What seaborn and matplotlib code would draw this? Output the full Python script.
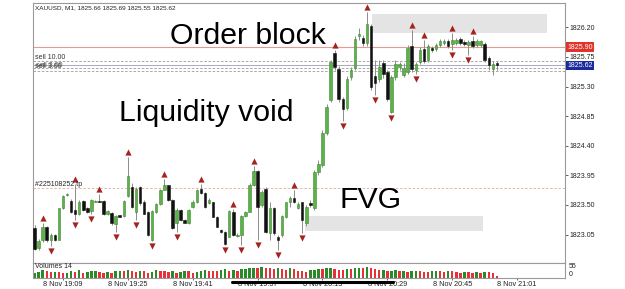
import numpy as np
import pandas as pd
import matplotlib
matplotlib.use("Agg")
import matplotlib.pyplot as plt
import matplotlib.transforms as mtransforms
from matplotlib.patches import Rectangle
from matplotlib.lines import Line2D
import seaborn as sns

# ---------------- data ----------------
opens = [
    1823.15, 1822.84, 1822.96, 1823.16, 1822.97, 1823.04, 1822.97, 1823.45, 1823.65, 1823.56,
    1823.42, 1823.36, 1823.56, 1823.46, 1823.41, 1823.55, 1823.56, 1823.56, 1823.36, 1823.38,
    1823.21, 1823.34, 1823.33, 1823.63, 1823.78, 1823.40, 1823.77, 1823.55, 1823.40, 1822.97,
    1823.40, 1823.51, 1823.73, 1823.80, 1823.58, 1823.22, 1823.42, 1823.27, 1823.22, 1823.47,
    1823.54, 1823.75, 1823.68, 1823.53, 1823.54, 1823.31, 1823.12, 1823.09, 1823.02, 1823.40,
    1823.03, 1823.04, 1823.33, 1823.40, 1823.80, 1824.02, 1823.50, 1823.75, 1823.07, 1823.45,
    1823.02, 1823.04, 1823.31, 1823.55, 1823.60, 1823.46, 1823.54, 1823.23, 1823.53, 1823.45,
    1824.00, 1824.11, 1824.59, 1825.10, 1825.81, 1825.57, 1825.11, 1824.97, 1825.45, 1825.58,
    1826.07, 1826.04, 1825.96, 1826.22, 1825.46, 1825.41, 1825.66, 1825.52, 1824.91, 1825.45,
    1825.60, 1825.48, 1825.52, 1825.92, 1825.55, 1825.67, 1825.87, 1825.70, 1825.89, 1825.87,
    1825.93, 1825.96, 1825.99, 1825.95, 1825.96, 1826.02, 1825.98, 1825.93, 1825.99, 1825.93,
    1825.93, 1825.95, 1825.73, 1825.57, 1825.66]
highs = [
    1823.20, 1822.98, 1823.23, 1823.18, 1823.07, 1823.06, 1823.46, 1823.65, 1823.68, 1823.59,
    1823.82, 1823.57, 1823.58, 1823.47, 1823.59, 1823.58, 1823.67, 1823.58, 1823.43, 1823.40,
    1823.35, 1823.35, 1823.58, 1824.23, 1823.83, 1823.78, 1823.79, 1823.57, 1823.41, 1823.42,
    1823.53, 1823.75, 1823.90, 1823.81, 1823.59, 1823.45, 1823.44, 1823.29, 1823.44, 1823.57,
    1823.74, 1823.82, 1823.69, 1823.60, 1823.55, 1823.33, 1823.13, 1823.11, 1823.42, 1823.44,
    1823.07, 1823.35, 1823.41, 1823.83, 1824.09, 1824.03, 1823.73, 1823.78, 1823.55, 1823.47,
    1823.04, 1823.35, 1823.55, 1823.63, 1823.72, 1823.55, 1823.55, 1823.50, 1823.58, 1824.03,
    1824.18, 1824.64, 1825.03, 1825.70, 1825.86, 1825.61, 1825.14, 1825.46, 1825.60, 1826.07,
    1826.19, 1826.08, 1826.43, 1826.25, 1825.70, 1825.70, 1825.70, 1825.55, 1825.48, 1825.70,
    1825.67, 1825.66, 1825.93, 1826.16, 1825.67, 1825.90, 1826.01, 1825.95, 1825.92, 1825.96,
    1826.02, 1826.02, 1826.02, 1826.11, 1826.04, 1826.05, 1826.01, 1826.01, 1826.07, 1826.02,
    1826.01, 1825.98, 1825.76, 1825.69, 1825.69]
lows = [
    1822.81, 1822.82, 1822.94, 1822.94, 1822.87, 1822.95, 1822.96, 1823.44, 1823.63, 1823.38,
    1823.27, 1823.35, 1823.41, 1823.38, 1823.36, 1823.55, 1823.55, 1823.35, 1823.34, 1823.20,
    1823.09, 1823.31, 1823.32, 1823.62, 1823.45, 1823.27, 1823.50, 1823.36, 1823.03, 1822.95,
    1823.38, 1823.50, 1823.72, 1823.56, 1823.13, 1823.09, 1823.26, 1823.22, 1823.21, 1823.46,
    1823.53, 1823.66, 1823.45, 1823.51, 1823.31, 1823.16, 1823.08, 1822.89, 1823.01, 1823.03,
    1823.02, 1822.89, 1823.32, 1823.39, 1823.79, 1822.96, 1823.47, 1823.07, 1822.97, 1823.04,
    1822.82, 1823.02, 1823.30, 1823.47, 1823.53, 1823.44, 1823.08, 1823.18, 1823.47, 1823.42,
    1823.96, 1824.08, 1824.56, 1825.07, 1825.55, 1825.07, 1824.78, 1824.94, 1825.40, 1825.55,
    1826.01, 1825.92, 1825.92, 1825.25, 1825.17, 1825.37, 1825.43, 1825.08, 1824.90, 1825.40,
    1825.55, 1825.45, 1825.49, 1825.52, 1825.49, 1825.64, 1825.66, 1825.67, 1825.83, 1825.84,
    1825.90, 1825.93, 1825.89, 1825.86, 1825.93, 1825.93, 1825.92, 1825.78, 1825.89, 1825.90,
    1825.90, 1825.67, 1825.55, 1825.48, 1825.55]
closes = [
    1822.83, 1822.95, 1823.16, 1822.97, 1823.05, 1822.97, 1823.45, 1823.63, 1823.65, 1823.40,
    1823.37, 1823.54, 1823.42, 1823.40, 1823.58, 1823.565, 1823.55, 1823.37, 1823.41, 1823.22,
    1823.33, 1823.32, 1823.56, 1823.94, 1823.47, 1823.75, 1823.53, 1823.37, 1823.05, 1823.41,
    1823.51, 1823.73, 1823.80, 1823.58, 1823.15, 1823.43, 1823.27, 1823.23, 1823.42, 1823.55,
    1823.73, 1823.68, 1823.47, 1823.58, 1823.32, 1823.17, 1823.09, 1822.91, 1823.41, 1823.04,
    1823.05, 1823.33, 1823.40, 1823.81, 1824.01, 1823.47, 1823.69, 1823.09, 1823.45, 1823.07,
    1822.97, 1823.33, 1823.54, 1823.60, 1823.55, 1823.51, 1823.27, 1823.47, 1823.50, 1824.00,
    1824.12, 1824.59, 1824.99, 1825.67, 1825.60, 1825.11, 1824.96, 1825.41, 1825.55, 1826.02,
    1826.10, 1825.96, 1826.25, 1825.29, 1825.35, 1825.60, 1825.49, 1825.11, 1825.45, 1825.64,
    1825.64, 1825.58, 1825.89, 1825.57, 1825.64, 1825.86, 1825.69, 1825.92, 1825.86, 1825.93,
    1825.99, 1825.99, 1825.92, 1826.01, 1826.01, 1825.96, 1825.95, 1825.98, 1825.92, 1825.99,
    1825.99, 1825.70, 1825.63, 1825.64, 1825.62]
volumes = [
    22, 28, 34, 30, 26, 27, 25, 20, 24, 31,
    28, 36, 22, 26, 30, 33, 26, 22, 28, 24,
    30, 33, 31, 36, 29, 28, 33, 31, 24, 27,
    35, 30, 29, 26, 31, 24, 27, 33, 30, 24,
    28, 31, 37, 33, 32, 30, 34, 38, 30, 36,
    32, 38, 40, 44, 46, 42, 50, 45, 42, 38,
    44, 40, 36, 42, 38, 33, 30, 28, 34, 36,
    40, 38, 42, 44, 40, 37, 34, 39, 38, 42,
    45, 43, 48, 44, 38, 34, 36, 30, 33, 35,
    29, 32, 28, 30, 33, 31, 28, 27, 30, 32,
    30, 28, 31, 29, 27, 24, 27, 25, 22, 26,
    22, 27, 25, 23, 10]
fractal_up = [2, 10, 16, 23, 32, 41, 49, 54, 64, 74, 82, 93, 96, 103, 108]
fractal_down = [4, 10, 14, 20, 25, 29, 35, 47, 51, 55, 60, 66, 76, 84, 88, 94, 103, 107]

tick_idx = [7, 23, 39, 55, 71, 87, 103, 119]
tick_labels = ["8 Nov 19:09", "8 Nov 19:25", "8 Nov 19:41", "8 Nov 19:57",
               "8 Nov 20:13", "8 Nov 20:29", "8 Nov 20:45", "8 Nov 21:01"]
price_ticks = [1823.05, 1823.50, 1823.95, 1824.40, 1824.85, 1825.30, 1825.75, 1826.20]
volume_ticks = [0, 55]

order_level = 1825.90
bid_level = 1825.62
sell_levels = [1825.69, 1825.58, 1825.54]
tp_level = 1823.76
order_block = (83.2, 126.3, 1826.12, 1826.40)   # x start, x end, low, high
fvg_zone = (66.7, 110.5, 1823.11, 1823.33)

title_text = "XAUUSD, M1, 1825.66 1825.69 1825.55 1825.62"

# ---------------- style ----------------
sns.set_theme(style="white")
plt.rcParams["font.family"] = ["Liberation Sans", "DejaVu Sans"]

W, H = 625, 289
def fx(px): return px / W
def fy(py): return 1 - py / H

fig = plt.figure(figsize=(6.25, 2.89), dpi=100)
fig.patch.set_facecolor("white")
ax = fig.add_axes([fx(33), fy(263), fx(565) - fx(33), fy(3) - fy(263)])
axv = fig.add_axes([fx(33), fy(278), fx(565) - fx(33), fy(263) - fy(278)])

XLIM = (-0.39, 130.8)
spine_c = "#9a9a9a"

o = np.array(opens); h = np.array(highs); l = np.array(lows); c = np.array(closes)
idx = np.arange(len(o))
up = c >= o
body_lo = np.minimum(o, c)
body_h = np.maximum(np.abs(c - o), 0.012)

# zones
for (x0, x1, lo, hi) in (order_block, fvg_zone):
    ax.add_patch(Rectangle((x0, lo), x1 - x0, hi - lo, facecolor="#e4e4e4",
                           edgecolor="none", zorder=0))

# level lines
ax.axhline(order_level, color="#e49a92", lw=0.8, zorder=1)
ax.axhline(bid_level, color="#a9a9bb", lw=0.7, zorder=1)
for lv in sell_levels:
    ax.axhline(lv, color="#9a9a9a", lw=0.6, ls=(0, (3, 2)), zorder=1)
ax.axhline(tp_level, color="#e8aaa2", lw=0.6, ls=(0, (3, 2)), zorder=1)

# candles
ax.vlines(idx, l, h, color="#8c8c8c", lw=0.7, zorder=2)
ax.bar(idx[up], body_h[up], bottom=body_lo[up], width=0.62, color="#5cb248",
       edgecolor="#3f8a31", lw=0.4, zorder=3)
ax.bar(idx[~up], body_h[~up], bottom=body_lo[~up], width=0.62, color="#111111",
       edgecolor="#111111", lw=0.4, zorder=3)

# fractal arrows (seaborn scatter, shifted a few pixels off the high / low)
tr_up = mtransforms.offset_copy(ax.transData, fig=fig, x=0, y=5, units="dots")
tr_dn = mtransforms.offset_copy(ax.transData, fig=fig, x=0, y=-5, units="dots")
sns.scatterplot(x=fractal_up, y=h[fractal_up], marker="^", s=20, color="#a3241f",
                linewidth=0, transform=tr_up, zorder=4, ax=ax)
sns.scatterplot(x=fractal_down, y=l[fractal_down], marker="v", s=20, color="#a3241f",
                linewidth=0, transform=tr_dn, zorder=4, ax=ax)

ax.set_xlim(*XLIM)
ax.set_ylim(1822.618, 1826.569)
ax.yaxis.tick_right()
ax.set_yticks(price_ticks)
ax.set_yticklabels([f"{t:.2f}" for t in price_ticks])
ax.tick_params(axis="y", labelsize=5, colors="#222222", length=2, width=0.5, pad=1.5,
               right=True, left=False)
ax.tick_params(axis="x", bottom=False, labelbottom=False)
for s in ax.spines.values():
    s.set_color(spine_c); s.set_linewidth(0.8)

# price labels on right axis
blend = mtransforms.blended_transform_factory(ax.transAxes, ax.transData)
ax.text(1.004, order_level, f"{order_level:.2f}", transform=blend, fontsize=5,
        color="white", va="center", ha="left",
        bbox=dict(boxstyle="square,pad=0.15", fc="#e0332b", ec="none"))
ax.text(1.004, bid_level, f"{bid_level:.2f}", transform=blend, fontsize=5,
        color="white", va="center", ha="left",
        bbox=dict(boxstyle="square,pad=0.15", fc="#1b2a9c", ec="none"))

# volume pane
vol = np.array(volumes)
vup = np.r_[True, vol[1:] > vol[:-1]]
axv.bar(idx[vup], vol[vup], width=0.6, color="#2a8a2a", lw=0)
axv.bar(idx[~vup], vol[~vup], width=0.6, color="#e8303c", lw=0)
axv.set_xlim(*XLIM)
axv.set_ylim(0, 66)
axv.yaxis.tick_right()
axv.set_yticks(volume_ticks)
axv.set_yticklabels([str(t) for t in volume_ticks])
axv.tick_params(axis="y", labelsize=5, colors="#222222", length=0, pad=2.5)
axv.get_yticklabels()[0].set_va("bottom")
axv.set_xticks(tick_idx)
axv.set_xticklabels(tick_labels)
axv.tick_params(axis="x", labelsize=5.2, colors="#222222", length=1.5, width=0.5, pad=1,
                bottom=True)
for s in axv.spines.values():
    s.set_color(spine_c); s.set_linewidth(0.8)
axv.text(0.004, 0.75, "Volumes 14", transform=axv.transAxes, fontsize=5, color="#222222",
         va="center", ha="left", zorder=5)

# annotations
fig.text(fx(35), fy(8), title_text, fontsize=4.6, color="#222222", va="center", ha="left")
fig.text(fx(35), fy(57.5), "sell 10.00", fontsize=5, color="#333333", va="center", ha="left")
fig.text(fx(35), fy(66.5), "sell 3.00", fontsize=5, color="#333333", va="center", ha="left")
fig.text(fx(36), fy(65.5), "sell 3.00", fontsize=5, color="#555555", va="center", ha="left")
fig.text(fx(35), fy(185), "#225108252 tp", fontsize=5, color="#222222", va="center", ha="left")
fig.text(fx(170), fy(43.5), "Order block", fontsize=21.8, color="black", va="baseline", ha="left")
fig.text(fx(119), fy(120.5), "Liquidity void", fontsize=21.8, color="black", va="baseline", ha="left")
fig.text(fx(339), fy(208), "FVG", fontsize=21.8, color="black", va="baseline", ha="left")

# scroll bar under the time axis
fig.add_artist(Line2D([fx(232), fx(393)], [fy(282), fy(282)], color="black", lw=2.2,
                      solid_capstyle="round"))

fig.savefig("out.png", dpi=100, facecolor="white")
